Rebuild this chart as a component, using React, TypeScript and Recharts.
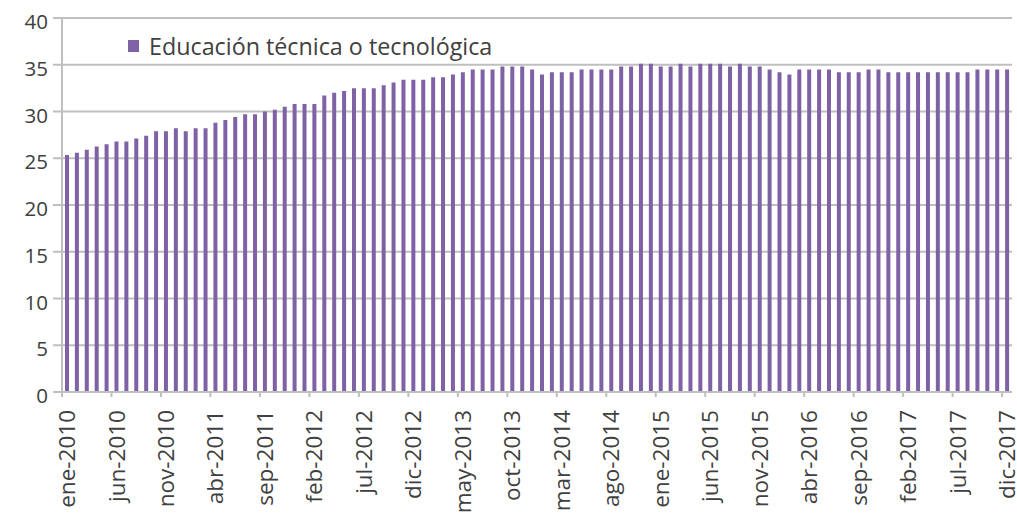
import React from 'react';
import { BarChart, Bar, XAxis, YAxis, CartesianGrid } from 'recharts';

const monthNames = ['ene', 'feb', 'mar', 'abr', 'may', 'jun', 'jul', 'ago', 'sep', 'oct', 'nov', 'dic'];
const years = [2010, 2011, 2012, 2013, 2014, 2015, 2016, 2017];
const categories = years.flatMap((y) => monthNames.map((m) => `${m}-${y}`));

const values = [
  25.35, 25.6, 25.9, 26.25, 26.5, 26.8, 26.8, 27.1, 27.4, 27.9, 27.9, 28.2,
  27.9, 28.2, 28.2, 28.8, 29.1, 29.4, 29.7, 29.7, 30.0, 30.2, 30.5, 30.8,
  30.8, 30.8, 31.7, 32.0, 32.2, 32.5, 32.5, 32.5, 32.8, 33.1, 33.4, 33.4,
  33.4, 33.65, 33.65, 33.95, 34.2, 34.5, 34.5, 34.5, 34.8, 34.8, 34.8, 34.5,
  33.95, 34.2, 34.2, 34.2, 34.5, 34.5, 34.5, 34.5, 34.8, 34.8, 35.1, 35.1,
  34.8, 34.8, 35.1, 34.8, 35.1, 35.1, 35.1, 34.8, 35.1, 34.8, 34.8, 34.5,
  34.2, 33.95, 34.5, 34.5, 34.5, 34.5, 34.2, 34.2, 34.2, 34.5, 34.5, 34.2,
  34.2, 34.2, 34.2, 34.2, 34.2, 34.2, 34.2, 34.2, 34.5, 34.5, 34.5, 34.5,
];

const yTicks = [0, 5, 10, 15, 20, 25, 30, 35, 40];
const seriesName = 'Educación técnica o tecnológica';

const data = categories.map((month, i) => ({ month, value: values[i] }));

const WIDTH = 1017;
const HEIGHT = 518;
const MARGIN = { top: 18, right: 5, bottom: 0, left: 0 };
const Y_AXIS_W = 62;
const X_AXIS_H = 126;
const X_TICK_SIZE = 6;
const X_TICK_MARGIN = 8;
const PLOT_W = WIDTH - MARGIN.left - MARGIN.right - Y_AXIS_W;
const HALF_BAND = PLOT_W / categories.length / 2;

const FONT = "'Open Sans', sans-serif";
const TEXT_COLOR = '#404040';
const GRID = '#bfbfbf';
const BAR = '#7f62a6';

const XTick = (props: any) => {
  const { x, y, payload } = props;
  const axisY = y - X_TICK_SIZE - X_TICK_MARGIN;
  const ty = axisY + 18;
  return (
    <g>
      <line x1={x - HALF_BAND} x2={x - HALF_BAND} y1={axisY} y2={axisY + 5} stroke={GRID} strokeWidth={2} />
      <text
        x={x}
        y={ty}
        transform={`rotate(-90, ${x}, ${ty})`}
        textAnchor="end"
        dy="0.36em"
        fontSize={22.5}
        fontFamily={FONT}
        fill={TEXT_COLOR}
      >
        {payload.value}
      </text>
    </g>
  );
};

const YTick = (props: any) => {
  const { x, y, payload } = props;
  return (
    <text x={x} y={y} dy={11} textAnchor="end" fontSize={20.5} fontFamily={FONT} fill={TEXT_COLOR}>
      {payload.value}
    </text>
  );
};

export default function App() {
  return (
    <div style={{ position: 'absolute', left: 0, top: 0, width: WIDTH, height: HEIGHT, background: '#fff' }}>
      <BarChart width={WIDTH} height={HEIGHT} data={data} margin={MARGIN} barCategoryGap={0}>
        <CartesianGrid vertical={false} stroke={GRID} strokeWidth={2} />
        <XAxis
          dataKey="month"
          interval={4}
          height={X_AXIS_H}
          tickLine={false}
          tickSize={X_TICK_SIZE}
          tickMargin={X_TICK_MARGIN}
          axisLine={{ stroke: GRID, strokeWidth: 2 }}
          tick={<XTick />}
        />
        <YAxis
          width={Y_AXIS_W}
          domain={[0, 40]}
          ticks={yTicks}
          interval={0}
          tickSize={9}
          tickMargin={5}
          tickLine={{ stroke: GRID, strokeWidth: 2 }}
          axisLine={{ stroke: GRID, strokeWidth: 2 }}
          tick={<YTick />}
        />
        <Bar dataKey="value" name={seriesName} fill={BAR} barSize={4} isAnimationActive={false} />
      </BarChart>
      <div
        style={{
          position: 'absolute',
          top: 31,
          left: 128,
          display: 'flex',
          alignItems: 'center',
          fontFamily: FONT,
          fontSize: 23.3,
          lineHeight: '30px',
          color: TEXT_COLOR,
          whiteSpace: 'nowrap',
        }}
      >
        <span style={{ display: 'inline-block', width: 11, height: 12, background: BAR, marginRight: 10 }} />
        <span>{seriesName}</span>
      </div>
    </div>
  );
}
